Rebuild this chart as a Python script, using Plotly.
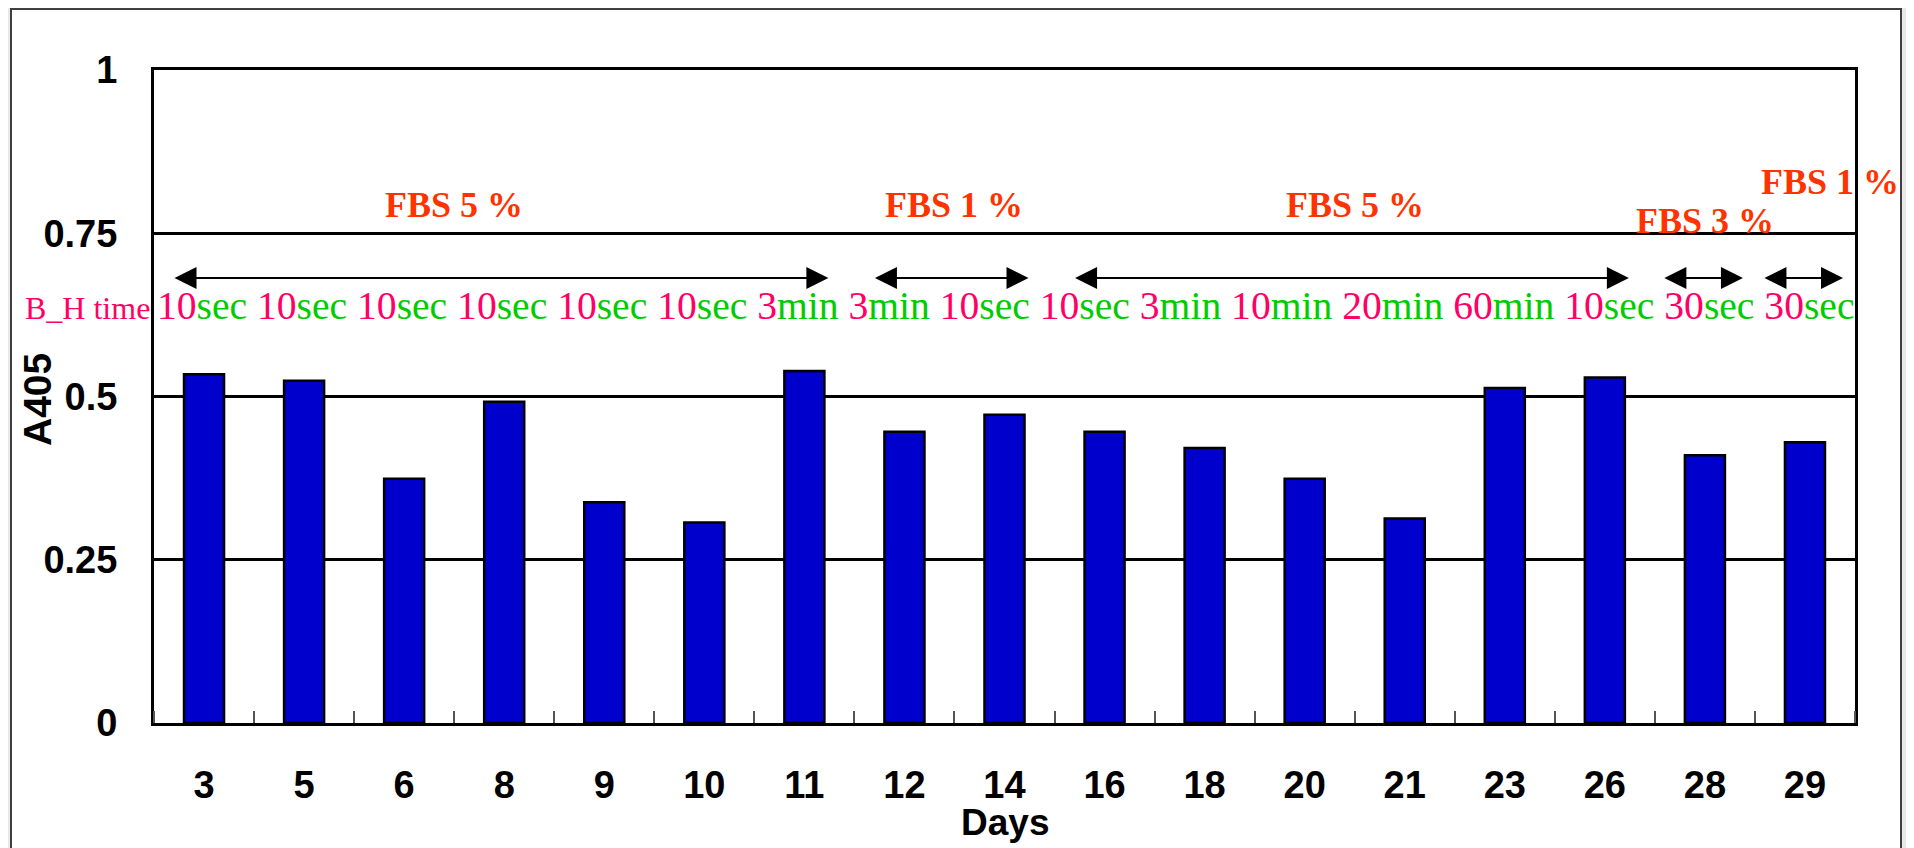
import plotly.graph_objects as go

# ---------------- data ----------------
days = ["3", "5", "6", "8", "9", "10", "11", "12", "14", "16", "18", "20", "21", "23", "26", "28", "29"]
a405 = [0.534, 0.524, 0.374, 0.492, 0.338, 0.307, 0.539, 0.446, 0.472, 0.446,
        0.421, 0.374, 0.313, 0.513, 0.529, 0.410, 0.430]

bh_numbers = ["10", "10", "10", "10", "10", "10", "3", "3", "10", "10", "3", "10", "20", "60", "10", "30", "30"]
bh_units = ["sec", "sec", "sec", "sec", "sec", "sec", "min", "min", "sec", "sec", "min", "min", "min", "min", "sec", "sec", "sec"]

fbs_labels = ["FBS 5 %", "FBS 1 %", "FBS 5 %", "FBS 3 %", "FBS 1 %"]
fbs_first_day = ["3", "12", "16", "28", "29"]
fbs_last_day = ["11", "14", "26", "28", "29"]

y_ticks = [0, 0.25, 0.5, 0.75, 1]
y_tick_text = ["0", "0.25", "0.5", "0.75", "1"]

# ---------------- style ----------------
BAR = "#0000CC"
PINK = "#FF0066"
GREEN = "#00CC00"
ORANGE = "#FF3300"
SANS = "Liberation Sans, Arial, sans-serif"
SERIF = "Liberation Serif, Times New Roman, serif"

OFF = 8                      # page body margin of the html page
W, H = 1914 - OFF, 848 - OFF
ML, MT = 154 - OFF, 70 - OFF
PW, PH = 1701, 653
MR = W - ML - PW
MB = H - MT - PH


def px_to_paper_x(px):
    return (px - OFF - ML) / PW


def px_to_paper_y(py):
    return (OFF + MT + PH - py) / PH


xpos = list(range(len(days)))

fig = go.Figure()
fig.add_trace(go.Bar(
    x=xpos, y=a405, width=0.4,
    marker=dict(color=BAR, line=dict(color="black", width=2.5)),
    showlegend=False,
))

annotations = []

# B_H time row
row = "&nbsp;".join(
    f'<span style="color:{PINK}">{n}</span><span style="color:{GREEN}">{u}</span>'
    for n, u in zip(bh_numbers, bh_units)
)
annotations.append(dict(
    text=row, xref="paper", yref="paper", x=px_to_paper_x(155), y=px_to_paper_y(306),
    xanchor="left", yanchor="middle", showarrow=False,
    font=dict(family=SERIF, size=39.6, color=PINK),
))
annotations.append(dict(
    text="B_H time", xref="paper", yref="paper", x=px_to_paper_x(152), y=px_to_paper_y(308),
    xanchor="right", yanchor="middle", showarrow=False,
    font=dict(family=SERIF, size=32, color=PINK),
))

# FBS period arrows and labels
arrow_y = px_to_paper_y(278)
label_dx = [-0.5, 0, 0, 0, 0.25]
label_py = [205, 205, 205, 221, 182]
for i, lab in enumerate(fbs_labels):
    i0 = days.index(fbs_first_day[i])
    i1 = days.index(fbs_last_day[i])
    single = i0 == i1
    pad_start = 0.42 if single else 0.31
    pad_end = 0.38 if single else 0.24
    annotations.append(dict(
        text="", x=i1 + pad_end, y=arrow_y, xref="x", yref="y",
        ax=i0 - pad_start, ay=arrow_y, axref="x", ayref="y",
        showarrow=True, arrowhead=2, startarrowhead=2, arrowside="end+start",
        arrowsize=2.2, startarrowsize=2.2, arrowwidth=2, arrowcolor="black",
        standoff=0, startstandoff=0,
    ))
    annotations.append(dict(
        text=f"<b>{lab}</b>", x=(i0 + i1) / 2 + label_dx[i], y=px_to_paper_y(label_py[i]),
        xref="x", yref="y", xanchor="center", yanchor="middle", showarrow=False,
        font=dict(family=SERIF, size=36, color=ORANGE),
    ))

# axis titles
annotations.append(dict(
    text="<b>Days</b>", xref="paper", yref="paper", x=0.5, y=px_to_paper_y(823),
    xanchor="center", yanchor="middle", showarrow=False,
    font=dict(family=SANS, size=37, color="black"),
))
annotations.append(dict(
    text="<b>A405</b>", xref="paper", yref="paper", x=px_to_paper_x(37), y=px_to_paper_y(400),
    xanchor="center", yanchor="middle", showarrow=False, textangle=-90,
    font=dict(family=SANS, size=39, color="black"),
))

fig.update_layout(
    width=W, height=H,
    margin=dict(l=ML, r=MR, t=MT, b=MB, autoexpand=False),
    paper_bgcolor="#E8E8E8",
    plot_bgcolor="white",
    bargap=0.6,
    annotations=annotations,
    shapes=[dict(
        type="rect", xref="paper", yref="paper",
        x0=px_to_paper_x(11), x1=px_to_paper_x(1901),
        y0=px_to_paper_y(900), y1=px_to_paper_y(9),
        fillcolor="white", line=dict(color="#404040", width=2), layer="below",
    )],
    xaxis=dict(
        range=[-0.5, len(days) - 0.5], tickmode="array", tickvals=xpos, ticktext=days,
        showgrid=False, zeroline=False, ticks="",
        showline=True, linecolor="black", linewidth=3, mirror=True,
        tickfont=dict(family=SANS, size=38, color="black", weight="bold"),
        ticklabelstandoff=26,
        minor=dict(tick0=0.5, dtick=1, ticks="inside", ticklen=12, tickwidth=1.5,
                   tickcolor="#555555", showgrid=False),
    ),
    yaxis=dict(
        range=[0, 1], tickmode="array", tickvals=y_ticks, ticktext=y_tick_text,
        showgrid=True, gridcolor="black", gridwidth=2.5, zeroline=False, ticks="",
        showline=True, linecolor="black", linewidth=3, mirror=True,
        tickfont=dict(family=SANS, size=38, color="black", weight="bold"),
        ticklabelstandoff=26,
    ),
)

fig.write_html("out.html")
